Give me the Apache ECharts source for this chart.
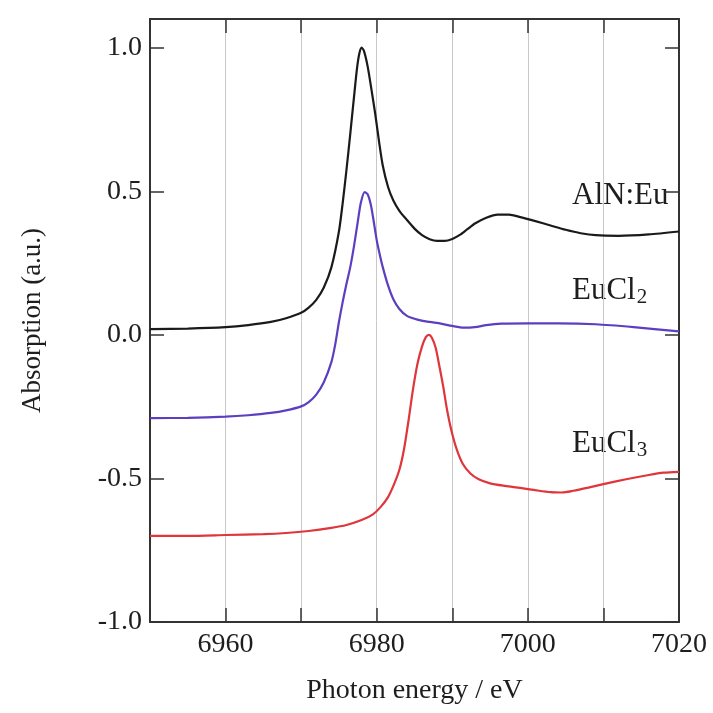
<!DOCTYPE html>
<html>
<head>
<meta charset="utf-8">
<script src="https://cdn.jsdelivr.net/npm/echarts@6/dist/echarts.min.js"></script>
<style>html,body{margin:0;padding:0;background:#fff;}#c{width:713px;height:713px;}</style>
</head>
<body>
<div id="c"></div>
<script>
// X tick values / labels
var xLabels = [6960, 6980, 7000, 7020];
var yTicks = [-1.0, -0.5, 0.0, 0.5, 1.0];

// AlN:Eu
var alnE = [6950,6955,6960,6963,6966,6968,6970,6971,6972,6973,6974,6975,6975.5,6976,6976.5,6977,6977.4,6977.7,6978,6978.3,6978.8,6979.3,6979.8,6980.3,6980.8,6981.5,6982.2,6983,6984,6985,6986,6987,6988,6989,6990,6991,6992,6993,6994.5,6996,6997.5,6999,7001,7003,7005,7007,7009,7012,7016,7020];
var alnA = [0.020,0.022,0.027,0.034,0.045,0.058,0.077,0.095,0.122,0.165,0.235,0.36,0.46,0.575,0.70,0.83,0.93,0.98,1.0,0.99,0.935,0.855,0.77,0.675,0.59,0.515,0.468,0.432,0.400,0.370,0.347,0.333,0.327,0.327,0.334,0.348,0.368,0.388,0.408,0.419,0.419,0.410,0.396,0.381,0.366,0.354,0.347,0.345,0.350,0.360];

// EuCl2
var cl2E = [6950,6955,6960,6963,6966,6968,6970,6971,6972,6973,6974,6974.5,6975,6975.5,6976,6976.5,6977,6977.5,6977.9,6978.4,6978.8,6979.2,6979.5,6980,6980.4,6980.8,6981.5,6982.2,6983,6984,6985.5,6987,6988.5,6990,6991.5,6993,6994.5,6996.5,7000,7004,7009,7014,7020];
var cl2A = [-0.290,-0.289,-0.285,-0.280,-0.272,-0.263,-0.249,-0.234,-0.208,-0.165,-0.095,-0.035,0.045,0.115,0.178,0.236,0.31,0.395,0.46,0.497,0.49,0.456,0.412,0.33,0.28,0.236,0.172,0.124,0.09,0.066,0.052,0.045,0.039,0.031,0.025,0.027,0.034,0.039,0.040,0.040,0.037,0.027,0.012];

// EuCl3
var cl3E = [6950,6955,6960,6965,6968,6971,6974,6976,6978,6979.5,6980.5,6981.5,6982.3,6983,6983.6,6984.2,6984.8,6985.4,6986,6986.5,6986.9,6987.3,6987.8,6988.3,6988.8,6989.3,6989.9,6990.6,6991.4,6992.4,6993.5,6995,6997,6999,7001,7003,7004.5,7006,7008,7010,7013,7016,7018,7020];
var cl3A = [-0.700,-0.700,-0.697,-0.694,-0.690,-0.683,-0.672,-0.662,-0.645,-0.625,-0.600,-0.565,-0.520,-0.470,-0.400,-0.300,-0.190,-0.100,-0.040,-0.008,0.000,-0.010,-0.045,-0.110,-0.180,-0.260,-0.335,-0.400,-0.450,-0.483,-0.503,-0.517,-0.526,-0.533,-0.541,-0.548,-0.549,-0.543,-0.532,-0.520,-0.503,-0.488,-0.480,-0.477];

function pairs(xs, ys) { return xs.map(function (x, i) { return [x, ys[i]]; }); }

var FONT = '"Liberation Serif", "DejaVu Serif", serif';
var AX = '#333';
var TXT = '#1e1e1e';

var chart = echarts.init(document.getElementById('c'), null, {renderer: 'canvas'});
var tickStyle = {show: true, inside: true, length: 14, lineStyle: {color: AX, width: 1.5}};
chart.setOption({
  animation: false,
  backgroundColor: '#fff',
  grid: {left: 150, right: 34, top: 19, bottom: 91, containLabel: false},
  xAxis: [{
    type: 'value', position: 'bottom', min: 6950, max: 7020, interval: 10,
    axisLine: {show: true, onZero: false, lineStyle: {color: AX, width: 2}},
    axisTick: tickStyle,
    axisLabel: {
      show: true, margin: 9, color: TXT, fontFamily: FONT, fontSize: 28,
      formatter: function (v) { return xLabels.indexOf(v) >= 0 ? String(v) : ''; }
    },
    splitLine: {show: true, lineStyle: {color: '#c8c8c8', width: 1}},
    name: 'Photon energy / eV', nameLocation: 'middle', nameGap: 55,
    nameTextStyle: {color: TXT, fontFamily: FONT, fontSize: 28}
  }, {
    type: 'value', position: 'top', min: 6950, max: 7020, interval: 10,
    axisLine: {show: true, onZero: false, lineStyle: {color: AX, width: 2}},
    axisTick: tickStyle, axisLabel: {show: false}, splitLine: {show: false}
  }],
  yAxis: [{
    type: 'value', position: 'left', min: -1.0, max: 1.1, interval: 0.5,
    axisLine: {show: true, onZero: false, lineStyle: {color: AX, width: 2}},
    axisTick: Object.assign({customValues: yTicks}, tickStyle),
    axisLabel: {
      show: true, margin: 8, color: TXT, fontFamily: FONT, fontSize: 28,
      customValues: yTicks,
      formatter: function (v) { return v.toFixed(1); }
    },
    splitLine: {show: false},
    name: 'Absorption (a.u.)', nameLocation: 'middle', nameGap: 104,
    nameTextStyle: {color: TXT, fontFamily: FONT, fontSize: 27}
  }, {
    type: 'value', position: 'right', min: -1.0, max: 1.1, interval: 0.5,
    axisLine: {show: true, onZero: false, lineStyle: {color: AX, width: 2}},
    axisTick: Object.assign({customValues: yTicks}, tickStyle),
    axisLabel: {show: false}, splitLine: {show: false}
  }],
  series: [
    {type: 'line', name: 'AlN:Eu', data: pairs(alnE, alnA), showSymbol: false, smooth: 0.25,
     lineStyle: {color: '#1a1a1a', width: 2.2}, itemStyle: {color: '#1a1a1a'}},
    {type: 'line', name: 'EuCl2', data: pairs(cl2E, cl2A), showSymbol: false, smooth: 0.25,
     lineStyle: {color: '#5b3fc0', width: 2.2}, itemStyle: {color: '#5b3fc0'}},
    {type: 'line', name: 'EuCl3', data: pairs(cl3E, cl3A), showSymbol: false, smooth: 0.25,
     lineStyle: {color: '#e0353a', width: 2.2}, itemStyle: {color: '#e0353a'}}
  ],
  graphic: [
    {type: 'text', left: 572, top: 180, style: {text: 'AlN:Eu', fill: TXT, font: '31px ' + FONT}},
    {type: 'text', left: 572, top: 275, style: {
      text: '{a|EuCl}{s|2}', fill: TXT,
      rich: {a: {fontFamily: FONT, fontSize: 31, fill: TXT},
             s: {fontFamily: FONT, fontSize: 21, fill: TXT, padding: [14, 0, 0, 1]}}}},
    {type: 'text', left: 572, top: 428, style: {
      text: '{a|EuCl}{s|3}', fill: TXT,
      rich: {a: {fontFamily: FONT, fontSize: 31, fill: TXT},
             s: {fontFamily: FONT, fontSize: 21, fill: TXT, padding: [14, 0, 0, 1]}}}}
  ]
});
</script>
</body>
</html>
